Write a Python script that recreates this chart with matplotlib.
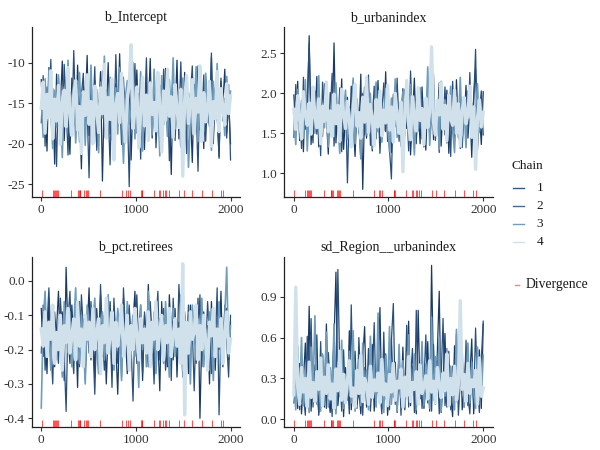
import numpy as np
import matplotlib
matplotlib.use("Agg")
import matplotlib.pyplot as plt
from matplotlib.lines import Line2D
import matplotlib.transforms as mtransforms

plt.rcParams['font.family'] = ['Liberation Serif', 'DejaVu Serif']
plt.rcParams['axes.unicode_minus'] = False

# ---------------- data ----------------
param_names = ["b_Intercept", "b_urbanindex", "b_pct.retirees", "sd_Region__urbanindex"]
chain_labels = ["1", "2", "3", "4"]
n_iter = 2000

intercept_c1 = [-12.1, -18.4, -14.0, -20.9, -10.6, -16.3, -13.2, -22.5, -11.4, -17.8,
                -15.1, -9.8, -19.6, -13.7, -16.9, -21.3, -11.9, -14.6, -18.2, -10.3,
                -16.0, -23.1, -12.8, -15.7, -9.1, -19.0, -14.3, -17.5, -12.2, -20.4,
                -15.9, -11.1, -24.6, -13.5, -16.6, -10.0, -18.8, -14.9, -21.7, -12.6,
                -16.4, -8.9, -17.2, -13.1, -19.9, -15.4, -11.7, -22.0, -14.1, -17.0,
                -10.9, -18.6, -13.9, -16.1, -20.7, -12.4, -15.6, -9.5, -19.3, -14.7,
                -17.7, -11.5, -21.0, -13.3, -16.7, -10.7, -18.0, -15.2, -23.8, -12.0,
                -16.2, -9.7, -19.4, -14.4, -17.3, -11.2, -20.2, -13.8, -15.8, -22.3,
                -12.7, -16.8, -10.4, -18.3, -14.2, -20.6, -11.8, -15.5, -17.9, -9.3,
                -19.1, -13.4, -16.5, -21.6, -12.3, -15.0, -10.8, -18.7, -14.8, -20.0]
intercept_c2 = [-17.4, -11.6, -20.3, -13.0, -15.8, -9.6, -18.9, -14.5, -22.8, -12.5,
                -16.1, -19.5, -10.2, -15.3, -21.4, -13.6, -17.6, -8.5, -16.8, -12.9,
                -19.8, -14.0, -11.3, -18.1, -15.6, -24.2, -12.1, -16.4, -10.5, -20.8,
                -14.6, -17.1, -11.0, -19.2, -13.3, -15.9, -22.6, -12.6, -18.5, -9.0,
                -16.6, -14.1, -20.1, -11.8, -17.3, -15.0, -25.3, -13.2, -16.0, -10.1,
                -18.7, -13.8, -21.9, -12.2, -16.3, -9.4, -19.0, -14.8, -17.8, -11.4,
                -20.5, -15.2, -12.8, -18.2, -10.8, -16.9, -13.5, -22.1, -15.5, -11.2,
                -19.6, -14.3, -17.0, -9.9, -18.4, -12.4, -21.2, -16.2, -13.9, -10.4,
                -18.0, -15.4, -23.4, -12.0, -16.7, -11.5, -19.7, -14.2, -17.5, -8.8,
                -20.0, -13.1, -15.7, -21.8, -11.9, -17.2, -14.4, -19.3, -12.7, -22.0]
intercept_c3 = [-14.8, -19.2, -12.0, -17.1, -10.9, -16.0, -20.6, -13.4, -18.0, -11.5,
                -15.5, -21.7, -13.0, -16.6, -9.7, -18.6, -14.2, -12.6, -19.9, -15.1,
                -11.2, -17.4, -14.0, -20.2, -12.9, -16.3, -10.3, -18.3, -15.7, -13.3,
                -21.1, -12.4, -16.8, -9.2, -17.9, -14.6, -11.8, -19.5, -15.3, -13.1,
                -18.8, -10.6, -16.1, -22.4, -14.3, -12.2, -17.6, -15.8, -10.0, -19.4,
                -13.6, -16.5, -11.1, -20.9, -14.9, -17.2, -12.5, -15.0, -18.9, -10.8,
                -16.7, -13.7, -21.5, -11.6, -17.7, -14.5, -19.1, -12.1, -15.9, -9.4,
                -18.2, -14.1, -16.4, -20.4, -11.9, -15.6, -13.2, -22.9, -17.0, -12.8,
                -16.0, -10.5, -19.7, -13.9, -15.2, -18.5, -11.3, -17.3, -14.7, -20.8,
                -12.3, -16.9, -10.1, -18.1, -14.0, -15.4, -19.0, -11.7, -16.2, -13.5]
intercept_c4 = [-15.6, -12.4, -18.7, -13.9, -16.8, -11.0, -19.4, -14.5, -17.2, -12.8,
                -20.1, -15.0, -13.4, -17.9, -10.6, -16.2, -19.0, -14.1, -12.2, -18.3,
                -15.4, -21.2, -13.6, -16.5, -11.5, -17.6, -14.8, -20.0, -12.9, -15.9,
                -18.6, -13.1, -16.3, -10.2, -19.3, -14.3, -17.0, -12.0, -22.0, -15.2,
                -13.8, -17.4, -11.3, -16.7, -19.8, -14.6, -12.6, -7.8, -18.1, -15.7,
                -13.0, -20.5, -16.0, -11.8, -17.8, -14.0, -19.6, -12.5, -16.4, -14.9,
                -18.4, -11.2, -15.3, -21.0, -13.5, -17.1, -10.8, -16.6, -14.2, -19.2,
                -12.7, -15.8, -18.0, -13.3, -24.0, -14.7, -11.6, -17.5, -15.1, -12.1,
                -18.8, -14.4, -16.1, -10.4, -19.7, -13.7, -17.3, -15.5, -12.3, -20.3,
                -14.8, -16.9, -11.1, -18.5, -13.2, -15.6, -17.7, -12.6, -16.3, -14.1]

urban_c1 = [1.98, 1.52, 2.15, 1.41, 1.83, 1.27, 2.06, 1.64, 2.72, 1.36,
            1.90, 1.58, 2.21, 1.33, 1.77, 1.46, 2.12, 1.69, 1.24, 2.01,
            1.55, 2.63, 1.38, 1.86, 1.49, 2.18, 1.30, 1.72, 1.95, 1.43,
            2.09, 1.61, 1.21, 1.88, 1.50, 2.24, 0.80, 1.80, 1.44, 2.03,
            1.59, 1.28, 1.93, 1.67, 2.16, 1.35, 1.74, 1.53, 2.27, 1.40,
            1.85, 1.26, 1.99, 1.62, 2.11, 1.47, 1.79, 1.32, 2.05, 1.56,
            1.91, 1.23, 1.70, 2.19, 1.45, 1.84, 1.37, 2.08, 1.60, 1.29,
            1.96, 1.51, 2.22, 1.42, 1.78, 1.66, 2.13, 1.34, 1.87, 1.48,
            2.04, 1.25, 1.73, 1.94, 1.39, 2.17, 1.57, 1.31, 1.89, 1.63,
            2.10, 1.44, 1.82, 1.20, 1.97, 2.30, 1.54, 1.76, 1.36, 2.02]
urban_c2 = [1.45, 2.11, 1.62, 1.87, 1.31, 2.20, 1.55, 1.94, 2.62, 1.70,
            1.38, 2.03, 1.49, 1.81, 1.22, 2.14, 1.66, 1.92, 1.42, 1.75,
            2.25, 1.34, 1.86, 1.57, 2.07, 1.27, 1.71, 1.98, 0.88, 1.83,
            1.53, 2.16, 1.39, 1.89, 1.61, 1.18, 2.00, 1.48, 1.79, 2.23,
            1.35, 1.68, 2.09, 1.43, 1.91, 1.25, 1.76, 2.13, 1.52, 1.84,
            1.30, 0.93, 1.95, 1.58, 2.19, 1.40, 1.73, 2.06, 1.47, 1.88,
            1.28, 2.28, 1.64, 1.82, 1.37, 2.01, 1.56, 1.93, 1.33, 1.78,
            2.12, 1.46, 1.69, 2.24, 1.41, 1.85, 1.26, 1.97, 1.60, 2.08,
            1.50, 1.80, 1.21, 2.15, 1.65, 1.90, 1.44, 2.05, 1.32, 1.74,
            1.99, 1.54, 2.26, 1.38, 1.87, 2.55, 1.29, 1.77, 2.03, 1.48]
urban_c3 = [1.72, 1.36, 2.05, 1.59, 1.91, 1.44, 2.17, 1.28, 1.83, 1.66,
            2.01, 1.50, 1.78, 2.22, 1.40, 1.87, 1.57, 2.10, 1.33, 1.74,
            1.96, 1.46, 2.13, 1.62, 1.25, 1.89, 1.70, 2.04, 1.42, 1.81,
            1.55, 2.19, 1.37, 1.93, 1.64, 1.19, 1.85, 2.08, 1.48, 1.76,
            2.00, 1.31, 1.68, 2.14, 1.52, 1.88, 1.39, 1.73, 2.06, 1.58,
            1.27, 1.94, 1.63, 2.18, 1.45, 1.79, 1.34, 2.02, 1.56, 1.86,
            1.41, 2.11, 1.67, 1.23, 1.90, 1.53, 2.07, 1.43, 1.80, 1.61,
            2.33, 1.35, 1.75, 1.98, 1.49, 1.84, 1.30, 2.15, 1.65, 1.92,
            1.38, 1.71, 2.09, 1.54, 1.26, 1.95, 1.60, 2.20, 1.47, 1.82,
            1.32, 2.03, 1.69, 1.88, 1.43, 1.77, 2.12, 1.51, 1.84, 1.66]
urban_c4 = [1.80, 1.55, 1.97, 1.68, 1.43, 2.02, 1.74, 1.60, 1.88, 1.49,
            2.08, 1.71, 1.57, 1.93, 1.37, 1.84, 1.65, 2.14, 1.52, 1.78,
            1.46, 1.99, 1.62, 1.85, 1.40, 2.05, 1.73, 1.56, 1.90, 1.67,
            1.33, 1.82, 2.11, 1.59, 1.76, 1.44, 1.95, 1.64, 2.20, 1.51,
            1.86, 1.69, 1.35, 1.92, 1.58, 2.03, 1.47, 1.79, 1.63, 2.10,
            1.54, 1.83, 1.39, 2.00, 1.72, 1.50, 1.89, 1.02, 1.75, 2.16,
            1.61, 1.42, 1.96, 1.70, 1.53, 2.07, 1.66, 1.81, 1.36, 1.94,
            1.57, 1.77, 2.58, 1.64, 1.48, 1.91, 1.73, 2.13, 1.55, 1.85,
            1.41, 1.98, 1.68, 1.60, 2.04, 1.50, 1.87, 1.34, 1.79, 1.95,
            1.62, 1.74, 2.09, 1.45, 1.83, 1.05, 1.69, 1.92, 1.58, 1.76]

retirees_c1 = [-0.08, -0.22, -0.12, -0.27, -0.05, -0.18, -0.10, -0.25, -0.14, -0.03,
               -0.20, -0.09, -0.29, 0.04, -0.16, -0.24, -0.07, -0.19, -0.13, -0.31,
               -0.06, -0.21, -0.11, -0.26, -0.15, -0.02, -0.23, -0.12, -0.28, -0.08,
               -0.17, -0.04, -0.22, -0.10, -0.30, -0.14, -0.06, -0.25, -0.09, -0.19,
               -0.33, -0.11, -0.21, -0.05, -0.16, -0.27, -0.08, -0.20, -0.12, -0.03,
               -0.24, -0.15, -0.07, -0.29, -0.10, -0.18, -0.01, -0.22, -0.13, -0.26,
               -0.09, -0.17, -0.32, -0.06, -0.20, -0.11, -0.25, -0.04, -0.16, -0.23,
               -0.08, -0.28, -0.12, -0.19, -0.02, -0.21, -0.14, -0.27, -0.07, -0.18,
               -0.10, -0.24, -0.05, -0.40, -0.15, -0.09, -0.22, -0.13, -0.30, -0.06,
               -0.17, -0.26, -0.11, -0.20, -0.03, -0.25, -0.14, -0.08, -0.23, -0.12]
retirees_c2 = [-0.21, -0.07, -0.26, -0.13, -0.02, -0.19, -0.30, -0.09, -0.17, -0.24,
               -0.05, -0.15, -0.22, -0.38, -0.11, -0.03, -0.20, -0.27, -0.08, -0.16,
               -0.25, -0.04, -0.14, -0.29, -0.10, -0.21, -0.06, -0.18, -0.33, -0.12,
               -0.23, -0.01, -0.16, -0.26, -0.08, -0.20, -0.13, -0.31, -0.05, -0.17,
               -0.24, -0.10, -0.28, -0.02, -0.15, -0.22, -0.07, -0.19, -0.35, -0.11,
               -0.04, -0.21, -0.14, -0.27, -0.09, -0.18, -0.25, -0.06, -0.16, -0.30,
               -0.12, -0.03, -0.23, -0.15, -0.08, -0.26, -0.19, -0.10, -0.29, -0.05,
               -0.17, -0.22, -0.01, -0.13, -0.28, -0.09, -0.20, -0.07, -0.24, -0.14,
               -0.32, -0.11, -0.18, -0.04, -0.25, -0.12, -0.21, -0.06, -0.16, -0.27,
               -0.09, -0.19, -0.02, -0.39, -0.13, -0.23, -0.07, -0.18, -0.28, -0.10]
retirees_c3 = [-0.37, -0.12, -0.03, -0.20, -0.15, -0.26, -0.08, -0.18, -0.23, -0.11,
               -0.16, -0.28, -0.06, -0.14, -0.21, -0.09, -0.25, -0.13, -0.02, -0.19,
               -0.24, -0.10, -0.17, -0.30, -0.07, -0.15, -0.22, -0.12, -0.05, -0.20,
               -0.27, -0.13, -0.09, -0.23, -0.16, -0.04, -0.21, -0.11, -0.26, -0.18,
               -0.08, -0.14, -0.29, -0.12, -0.19, -0.06, -0.24, -0.15, -0.10, -0.22,
               -0.17, -0.31, -0.07, -0.20, -0.13, -0.25, -0.03, -0.16, -0.21, -0.09,
               -0.27, -0.14, -0.11, -0.19, -0.24, -0.06, -0.17, -0.28, -0.12, -0.08,
               -0.22, -0.15, -0.20, -0.04, -0.26, -0.10, -0.18, -0.13, -0.30, -0.07,
               -0.16, -0.23, -0.11, -0.19, -0.05, -0.25, -0.14, -0.21, -0.09, -0.17,
               -0.29, -0.12, -0.20, -0.06, -0.24, -0.15, -0.10, 0.04, -0.22, -0.13]
retirees_c4 = [-0.14, -0.19, -0.09, -0.22, -0.12, -0.17, -0.07, -0.24, -0.15, -0.20,
               -0.10, -0.26, -0.13, -0.18, -0.08, -0.21, -0.16, -0.11, -0.23, -0.06,
               -0.19, -0.14, -0.25, -0.10, -0.17, -0.12, -0.22, -0.08, -0.20, -0.15,
               -0.11, -0.27, -0.13, -0.18, -0.05, -0.21, -0.16, -0.09, -0.24, -0.12,
               -0.19, -0.14, -0.07, -0.22, -0.17, -0.10, -0.26, -0.13, -0.20, -0.08,
               -0.16, -0.23, -0.11, -0.18, -0.14, -0.21, -0.09, -0.25, -0.12, -0.17,
               -0.06, -0.20, -0.15, -0.10, -0.23, -0.13, -0.18, -0.08, -0.22, -0.16,
               -0.11, -0.19, -0.14, -0.24, 0.05, -0.39, -0.12, -0.21, -0.09, -0.17,
               -0.15, -0.07, -0.23, -0.13, -0.20, -0.10, -0.18, -0.26, -0.12, -0.16,
               -0.08, -0.22, -0.14, -0.19, -0.11, -0.24, -0.15, -0.09, -0.21, -0.17]

sdregion_c1 = [0.35, 0.52, 0.08, 0.41, 0.04, 0.28, 0.56, 0.12, 0.83, 0.06,
               0.37, 0.15, 0.62, 0.03, 0.24, 0.47, 0.09, 0.70, 0.18, 0.05,
               0.33, 0.58, 1.08, 0.10, 0.26, 0.44, 0.02, 0.38, 0.14, 0.65,
               0.07, 0.30, 0.50, 0.11, 0.21, 0.04, 0.45, 0.68, 0.09, 0.27,
               0.13, 0.55, 0.06, 0.36, 0.19, 0.82, 0.08, 0.31, 0.48, 0.03,
               0.25, 0.60, 0.16, 0.42, 0.05, 0.34, 0.12, 0.53, 0.07, 0.29,
               0.72, 0.10, 0.39, 0.20, 0.04, 0.80, 0.15, 0.46, 0.08, 0.23,
               0.57, 0.06, 1.13, 0.32, 0.11, 0.49, 0.94, 0.05, 0.27, 0.63,
               0.09, 0.40, 0.17, 0.02, 0.54, 0.13, 0.35, 0.66, 0.07, 0.22,
               0.48, 0.10, 0.31, 0.59, 0.04, 0.26, 0.14, 0.51, 0.08, 0.70]
sdregion_c2 = [0.12, 0.26, 0.54, 0.07, 0.44, 0.18, 0.03, 0.61, 0.30, 0.74,
               0.09, 0.40, 0.22, 0.05, 0.57, 0.14, 0.33, 0.08, 0.49, 0.27,
               0.02, 0.66, 0.19, 1.10, 0.36, 0.06, 0.51, 0.12, 0.29, 0.04,
               0.84, 0.17, 0.43, 0.08, 0.60, 0.24, 0.03, 0.38, 0.13, 0.52,
               0.06, 0.28, 0.71, 0.10, 0.45, 0.21, 0.04, 0.64, 0.15, 0.34,
               0.07, 0.58, 0.85, 0.11, 0.25, 0.47, 0.03, 0.37, 0.18, 0.69,
               0.09, 0.30, 0.52, 0.05, 0.80, 0.16, 0.41, 0.08, 0.27, 0.62,
               0.12, 0.35, 0.06, 0.55, 0.20, 0.43, 0.04, 0.31, 0.74, 0.10,
               0.24, 0.50, 0.07, 0.39, 0.15, 0.63, 0.03, 0.28, 0.45, 0.09,
               0.58, 0.18, 0.04, 0.36, 0.12, 0.67, 0.22, 0.05, 0.44, 0.72]
sdregion_c3 = [0.28, 0.07, 0.45, 0.16, 0.60, 0.10, 0.35, 0.22, 0.05, 0.53,
               0.19, 0.76, 0.11, 0.31, 0.06, 0.48, 0.25, 0.64, 0.09, 0.38,
               0.14, 0.70, 0.04, 0.42, 0.17, 0.58, 0.08, 0.33, 0.21, 0.50,
               0.12, 0.65, 0.06, 0.29, 0.44, 0.10, 0.56, 0.18, 0.36, 0.07,
               0.61, 0.23, 0.40, 0.09, 0.78, 0.15, 0.32, 0.05, 0.47, 0.20,
               0.68, 0.11, 0.37, 0.26, 0.06, 0.55, 0.16, 0.43, 0.09, 0.30,
               0.62, 0.13, 0.24, 0.48, 0.07, 0.35, 0.19, 0.57, 0.10, 0.41,
               0.27, 0.08, 0.75, 0.14, 0.46, 0.22, 0.60, 0.06, 0.33, 0.17,
               0.52, 0.11, 0.39, 0.25, 0.07, 0.66, 0.15, 0.34, 0.49, 0.09,
               0.28, 0.56, 0.12, 0.42, 0.20, 0.08, 0.53, 0.31, 0.16, 0.47]
sdregion_c4 = [0.18, 0.97, 0.24, 0.11, 0.38, 0.20, 0.30, 0.09, 0.42, 0.16,
               0.27, 0.13, 0.35, 0.22, 0.45, 0.10, 0.31, 0.19, 0.40, 0.15,
               0.26, 0.08, 0.37, 0.21, 0.50, 0.14, 0.33, 0.12, 0.28, 0.43,
               0.17, 0.23, 0.09, 0.36, 0.19, 0.47, 0.13, 0.30, 0.25, 0.11,
               0.39, 0.16, 0.29, 0.21, 0.34, 0.12, 0.44, 0.18, 0.26, 0.10,
               0.33, 0.20, 0.41, 0.14, 0.28, 0.23, 0.37, 0.09, 0.31, 0.17,
               0.46, 0.13, 0.27, 0.22, 0.35, 0.11, 0.40, 0.19, 0.24, 0.32,
               0.15, 0.43, 0.20, 0.28, 0.12, 0.38, 0.25, 0.16, 0.34, 0.21,
               0.48, 0.10, 0.30, 0.18, 0.39, 0.14, 0.26, 0.87, 0.22, 0.33,
               0.13, 0.41, 0.19, 0.29, 0.24, 0.36, 0.11, 0.45, 0.17, 0.23]

divergent_iters = [7, 123, 140, 150, 160, 170, 178, 320, 390, 398, 405, 413,
                   455, 470, 480, 490, 620, 850, 900, 915, 935, 1055, 1062, 1070,
                   1189, 1245, 1260, 1290, 1305, 1320, 1347, 1460, 1505, 1590,
                   1700, 1800, 1895, 1920]

y_ticks_1 = [-25, -20, -15, -10]
y_ticks_2 = [1.0, 1.5, 2.0, 2.5]
y_ticks_3 = [-0.4, -0.3, -0.2, -0.1, 0.0]
y_ticks_4 = [0.0, 0.3, 0.6, 0.9]
x_ticks = [0, 1000, 2000]

chains = {
    "b_Intercept": [intercept_c1, intercept_c2, intercept_c3, intercept_c4],
    "b_urbanindex": [urban_c1, urban_c2, urban_c3, urban_c4],
    "b_pct.retirees": [retirees_c1, retirees_c2, retirees_c3, retirees_c4],
    "sd_Region__urbanindex": [sdregion_c1, sdregion_c2, sdregion_c3, sdregion_c4],
}

# ---------------- style ----------------
chain_colors = ["#1b3a63", "#2a4f7c", "#6f9dbb", "#d1e1ec"]
chain_lw = [0.9, 0.9, 1.2, 2.4]
div_color = "#ff0000"
text_color = "#333333"

W, H = 600, 450
fig = plt.figure(figsize=(6, 4.5), dpi=100)

def px_axes(l, r, t, b):
    return fig.add_axes([l / W, 1 - b / H, (r - l) / W, (b - t) / H])

panel_boxes = [
    (31.7, 240.0, 27.0, 196.7),
    (284.3, 492.7, 27.0, 196.7),
    (31.7, 240.0, 257.3, 426.7),
    (284.3, 492.7, 257.3, 426.7),
]
ylims = [(-26.53, -5.6), (0.708, 2.829), (-0.4245, 0.069), (-0.054, 1.189)]
yticks_all = [y_ticks_1, y_ticks_2, y_ticks_3, y_ticks_4]
ytick_fmt = ["{:.0f}", "{:.1f}", "{:.1f}", "{:.1f}"]

for k, name in enumerate(param_names):
    ax = px_axes(*panel_boxes[k])
    for c, vals in enumerate(chains[name]):
        x = np.linspace(1, n_iter, len(vals))
        ax.plot(x, vals, color=chain_colors[c], lw=chain_lw[c],
                solid_joinstyle="round", zorder=2 + c)
    trans = mtransforms.blended_transform_factory(ax.transData, ax.transAxes)
    ax.vlines(divergent_iters, 0, 0.04, transform=trans, color=div_color,
              lw=0.6, alpha=0.8, zorder=10)
    ax.set_xlim(-100, 2100)
    ax.set_ylim(*ylims[k])
    ax.set_xticks(x_ticks)
    ax.set_xticklabels([str(t) for t in x_ticks])
    ax.set_yticks(yticks_all[k])
    ax.set_yticklabels([ytick_fmt[k].format(t).replace("-0.0", "0.0") for t in yticks_all[k]])
    for s in ["top", "right"]:
        ax.spines[s].set_visible(False)
    for s in ["left", "bottom"]:
        ax.spines[s].set_color("#222222")
        ax.spines[s].set_linewidth(0.9)
    ax.tick_params(axis="both", direction="out", length=3, width=0.8,
                   color="#333333", labelsize=9.5, labelcolor=text_color, pad=2)
    ax.set_title(name, fontsize=10, color="#1a1a1a", pad=4.5)

# ---------------- legend ----------------
fig.text(512 / W, 1 - 166.3 / H, "Chain", fontsize=9.5, color="#1a1a1a",
         ha="left", va="center")
entry_y = [188.0, 206.3, 224.0, 242.0]
for c in range(4):
    yy = 1 - entry_y[c] / H
    fig.add_artist(Line2D([513.3 / W, 523.5 / W], [yy, yy], color=chain_colors[c],
                          lw=1.0, alpha=0.85 if c < 2 else 1.0))
    fig.text(536.7 / W, yy, chain_labels[c], fontsize=9.5, color="#1a1a1a",
             ha="left", va="center")

yy = 1 - 284.7 / H
fig.add_artist(Line2D([515 / W, 519 / W], [yy, yy], color=div_color, lw=1.0, alpha=0.5))
fig.text(526 / W, yy, "Divergence", fontsize=9.8, color="#1a1a1a", ha="left", va="center")

fig.savefig("out.png", dpi=100)
